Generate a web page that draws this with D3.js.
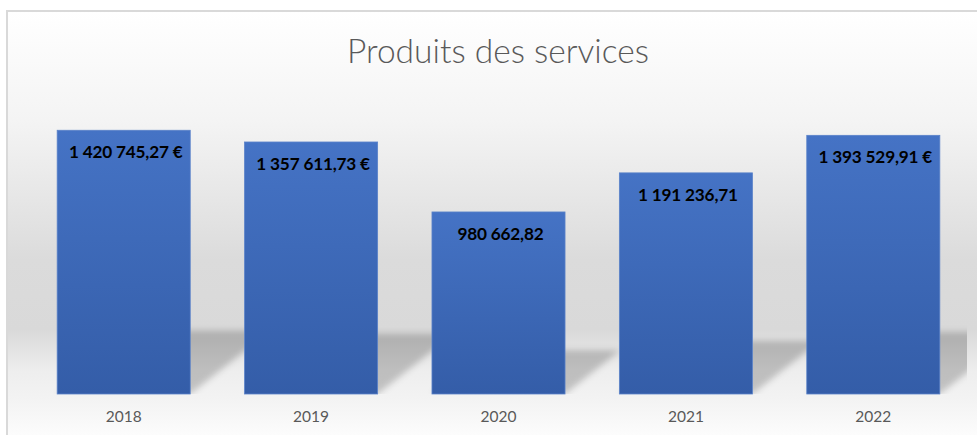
<!DOCTYPE html>
<html>
<head>
<meta charset="utf-8">
<script src="https://cdn.jsdelivr.net/npm/d3@7"></script>
<style>
  html, body { margin: 0; padding: 0; background: #ffffff; }
  svg { display: block; }
</style>
</head>
<body>
<svg id="chart" width="977" height="435"></svg>
<script>
// ---- data ----
const title = "Produits des services";
const categories = ["2018", "2019", "2020", "2021", "2022"];
const values = [1420745.27, 1357611.73, 980662.82, 1191236.71, 1393529.91];
const valueLabels = ["1 420 745,27 €", "1 357 611,73 €", "980 662,82", "1 191 236,71", "1 393 529,91 €"];
const yDomain = [0, 1600000];

// ---- layout ----
const W = 977, H = 435;
const plot = { left: 30, right: 967, top: 97, bottom: 394 };

const svg = d3.select("#chart");
const defs = svg.append("defs");

// background gradient
const bg = defs.append("linearGradient").attr("id", "bgGrad")
  .attr("gradientUnits", "userSpaceOnUse")
  .attr("x1", 0).attr("x2", 0).attr("y1", 11).attr("y2", 435);
[[0, "#ffffff"], [0.257, "#f4f4f4"], [0.446, "#e6e6e6"], [0.587, "#dbdbdb"],
 [0.752, "#d9d9d9"], [0.851, "#eeeeee"], [0.917, "#f3f3f3"], [1, "#fcfcfc"]]
  .forEach(([o, c]) => bg.append("stop").attr("offset", o).attr("stop-color", c));

// bar gradient
const bg2 = defs.append("linearGradient").attr("id", "barGrad")
  .attr("x1", 0).attr("x2", 0).attr("y1", 0).attr("y2", 1);
bg2.append("stop").attr("offset", 0).attr("stop-color", "#4573c5");
bg2.append("stop").attr("offset", 1).attr("stop-color", "#345da8");

// shadow blur
defs.append("filter").attr("id", "blur")
  .attr("x", "-20%").attr("y", "-20%").attr("width", "140%").attr("height", "140%")
  .append("feGaussianBlur").attr("stdDeviation", 3.2);

defs.append("clipPath").attr("id", "plotClip").append("rect")
  .attr("x", plot.left).attr("y", plot.top)
  .attr("width", plot.right - plot.left).attr("height", plot.bottom - plot.top);

// chart area background + border
svg.append("rect").attr("x", 0).attr("y", 0).attr("width", W).attr("height", H).attr("fill", "#ffffff");
svg.append("rect").attr("x", 7).attr("y", 11).attr("width", W + 50).attr("height", H + 50)
  .attr("fill", "url(#bgGrad)").attr("stroke", "#d9d9d9").attr("stroke-width", 2);

// title
svg.append("text").attr("x", 498).attr("y", 63)
  .attr("text-anchor", "middle")
  .attr("font-family", "Lato, 'Open Sans', sans-serif")
  .attr("font-weight", 300)
  .attr("font-size", 33.5)
  .attr("fill", "#595959")
  .text(title);

// scales
const x = d3.scaleBand().domain(categories).range([plot.left, plot.right])
  .paddingInner(0.29).paddingOuter(0.145);
const y = d3.scaleLinear().domain(yDomain).range([plot.bottom, plot.top]);

const data = categories.map((c, i) => ({ c, v: values[i], label: valueLabels[i] }));

// perspective shadows
const k = 1.27, shadowScale = 0.24;
svg.append("g").attr("clip-path", "url(#plotClip)")
  .append("g").attr("filter", "url(#blur)")
  .selectAll("polygon").data(data).join("polygon")
  .attr("points", d => {
    const x0 = x(d.c), x1 = x0 + x.bandwidth(), base = y(0);
    const h = (base - y(d.v)) * shadowScale;
    return [[x0, base], [x1, base], [x1 + k * h, base - h], [x0 + k * h, base - h]]
      .map(p => p.join(",")).join(" ");
  })
  .attr("fill", "#000000").attr("fill-opacity", 0.2);

// bars
svg.append("g").selectAll("rect").data(data).join("rect")
  .attr("x", d => x(d.c))
  .attr("y", d => y(d.v))
  .attr("width", x.bandwidth())
  .attr("height", d => y(0) - y(d.v))
  .attr("fill", "url(#barGrad)")
  .attr("stroke", "#5a82c9").attr("stroke-width", 0.8);

// value labels
svg.append("g").selectAll("text").data(data).join("text")
  .attr("x", d => x(d.c) + x.bandwidth() / 2 + 2)
  .attr("y", d => y(d.v) + 28)
  .attr("text-anchor", "middle")
  .attr("font-family", "Lato, 'Open Sans', sans-serif")
  .attr("font-weight", 700)
  .attr("font-size", 17.2)
  .attr("letter-spacing", -0.2)
  .attr("fill", "#000000")
  .text(d => d.label);

// x axis
const xAxis = svg.append("g").attr("transform", `translate(0,${plot.bottom})`)
  .call(d3.axisBottom(x).tickSize(0).tickPadding(17));
xAxis.select(".domain").remove();
xAxis.selectAll("text")
  .attr("font-family", "Lato, 'Open Sans', sans-serif")
  .attr("font-size", 15.5)
  .attr("fill", "#595959");
</script>
</body>
</html>
